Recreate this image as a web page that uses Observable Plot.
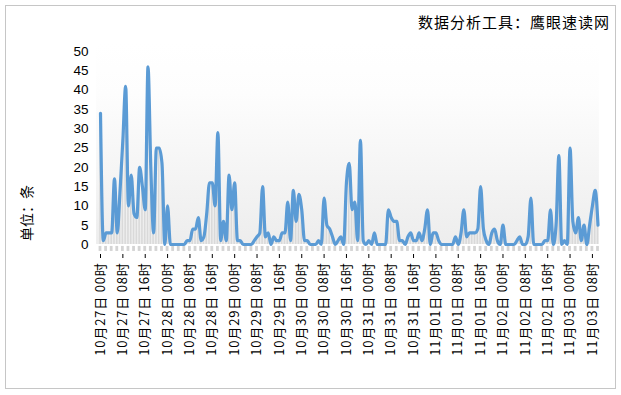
<!DOCTYPE html>
<html><head><meta charset="utf-8">
<script src="https://cdn.jsdelivr.net/npm/d3@7"></script>
<script src="https://cdn.jsdelivr.net/npm/@observablehq/plot@0.6"></script>
<style>body{margin:0;background:#fff;}</style>
</head><body><div id="chart"></div>
<script>
const values = [
  34, 1, 3, 3, 3, 17, 3, 14, 27, 41,
  10, 18, 8, 7, 20, 15, 9, 46, 20, 3,
  25, 25, 21, 0, 10, 0, 0, 0, 0, 0,
  0, 1, 1, 4, 4, 7, 1, 2, 8, 16,
  16, 10, 29, 1, 6, 1, 18, 9, 16, 1,
  1, 0, 0, 0, 0, 1, 2, 3, 15, 2,
  3, 0, 2, 1, 1, 3, 3, 11, 1, 14,
  6, 13, 9, 1, 1, 0, 0, 0, 1, 0,
  12, 5, 4, 2, 0, 1, 2, 0, 16, 21,
  9, 11, 1, 27, 1, 0, 1, 0, 3, 0,
  0, 0, 0, 9, 7, 6, 6, 1, 1, 0,
  2, 3, 1, 1, 3, 1, 4, 9, 0, 3,
  3, 1, 0, 0, 0, 0, 0, 2, 0, 3,
  9, 2, 3, 3, 3, 4, 15, 4, 1, 0,
  3, 4, 1, 0, 5, 0, 0, 0, 0, 1,
  2, 0, 0, 2, 12, 0, 0, 0, 0, 1,
  1, 9, 0, 5, 23, 0, 1, 0, 25, 6,
  3, 7, 1, 5, 0, 5, 10, 14, 5
];
const tickHours = d3.range(0, 177, 8);
const tickLabels = [
  "10月27日 00时","10月27日 08时","10月27日 16时",
  "10月28日 00时","10月28日 08时","10月28日 16时",
  "10月29日 00时","10月29日 08时","10月29日 16时",
  "10月30日 00时","10月30日 08时","10月30日 16时",
  "10月31日 00时","10月31日 08时","10月31日 16时",
  "11月01日 00时","11月01日 08时","11月01日 16时",
  "11月02日 00时","11月02日 08时","11月02日 16时",
  "11月03日 00时","11月03日 08时"
];
const yTicks = [0, 5, 10, 15, 20, 25, 30, 35, 40, 45, 50];
const titleText = "数据分析工具：鹰眼速读网";
const yLabelText = "单位：条";

const data = values.map((v, i) => ({h: i, v}));
const stripHours = d3.range(0, values.length, 2);
const lastH = values.length - 1;

const plot = Plot.plot({
  width: 621, height: 395,
  marginLeft: 96, marginRight: 23, marginTop: 40, marginBottom: 141,
  x: {domain: [0, lastH], range: [100, 597.5]},
  y: {domain: [0, 50], range: [244, 51]},
  style: {fontFamily: "'Liberation Sans', 'Noto Sans CJK SC', sans-serif", background: "white", color: "#000"},
  marks: [
    Plot.rect([0], {x1: -1.4, x2: lastH + 0.5, y1: 0, y2: 52, fill: "url(#bgGrad)"}),
    Plot.rect(data, {x1: d => d.h - 0.27, x2: d => d.h + 0.27, y1: 0, y2: "v", fill: "#d9d9d9"}),
    Plot.rect(stripHours, {x1: d => d - 0.5, x2: d => d + 0.5, y1: -0.5, y2: -1.8, fill: "#d4d4d4"}),
    Plot.line(data, {x: "h", y: "v", stroke: "#5b9bd5", strokeWidth: 3.2, curve: "monotone-x"}),
    Plot.axisY({ticks: yTicks, tickSize: 0, tickPadding: 8, fontSize: 13.5, label: null}),
    Plot.axisX({ticks: tickHours, tickFormat: d => tickLabels[d / 8], tickRotate: -90,
      tickSize: 4, tickPadding: 4, fontSize: 13, label: null, fontFamily: "'Noto Sans CJK SC'"})
  ]
});

const svg = d3.select(plot);
svg.selectAll('[aria-label="x-axis tick label"] text').style("letter-spacing", "0.8px");
const defs = svg.insert("defs", ":first-child");
const g = defs.append("linearGradient").attr("id", "bgGrad").attr("x1", 0).attr("y1", 0).attr("x2", 0).attr("y2", 1);
g.append("stop").attr("offset", "0%").attr("stop-color", "#ffffff");
g.append("stop").attr("offset", "25%").attr("stop-color", "#fdfdfd");
g.append("stop").attr("offset", "100%").attr("stop-color", "#ededed");

svg.append("rect").attr("x", 5.5).attr("y", 5.5).attr("width", 610).attr("height", 383)
  .attr("fill", "none").attr("stroke", "#c6c6c6");
svg.append("text").attr("x", 610).attr("y", 28).attr("text-anchor", "end")
  .style("font-family", "'Noto Sans CJK SC'").style("font-size", "15px").style("letter-spacing", "1px")
  .text(titleText);
svg.append("text").attr("transform", "translate(32,213) rotate(-90)").attr("text-anchor", "middle")
  .style("font-family", "'Noto Sans CJK SC'").style("font-size", "14px")
  .text(yLabelText);

document.getElementById("chart").appendChild(plot);
</script>
</body></html>
